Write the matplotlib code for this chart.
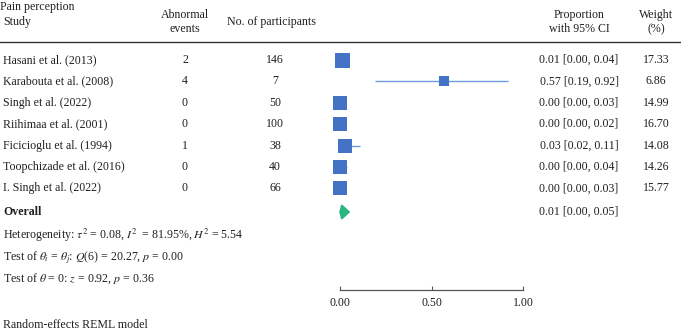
import matplotlib
matplotlib.use("Agg")
import matplotlib.pyplot as plt
import matplotlib.transforms as mtransforms
from matplotlib.lines import Line2D
import numpy as np

studies = ["Hasani et al. (2013)", "Karabouta et al. (2008)", "Singh et al. (2022)",
           "Riihimaa et al. (2001)", "Ficicioglu et al. (1994)", "Toopchizade et al. (2016)",
           "I. Singh et al. (2022)"]
events = [2, 4, 0, 0, 1, 0, 0]
participants = [146, 7, 50, 100, 38, 40, 66]
prop = [0.01, 0.57, 0.00, 0.00, 0.03, 0.00, 0.00]
ci_lo = [0.00, 0.19, 0.00, 0.00, 0.02, 0.00, 0.00]
ci_hi = [0.04, 0.92, 0.03, 0.02, 0.11, 0.04, 0.03]
weights = [17.33, 6.86, 14.99, 16.70, 14.08, 14.26, 15.77]
overall = (0.01, 0.00, 0.05)

plt.rcParams['font.family'] = ['Liberation Serif', 'DejaVu Serif']
plt.rcParams['mathtext.fontset'] = 'stix'
plt.rcParams['text.color'] = '#231f20'
plt.rcParams['xtick.labelcolor'] = '#231f20'
fs = 8.6
W, H = 681, 330
fig = plt.figure(figsize=(W / 100, H / 100), dpi=100)

# forest axes: x=0 at 340px, x=1 at 523px; top at 42px, axis line at 290px
ax = fig.add_axes([340 / W, (H - 290) / H, 183 / W, (290 - 42) / H])
ax.set_xlim(0, 1)
ax.set_ylim(1 + (290 - 60) / 21.4, 1 - 18 / 21.4)
for s in ["top", "right", "left"]:
    ax.spines[s].set_visible(False)
ax.spines["bottom"].set_color("#555555")
ax.spines["bottom"].set_linewidth(0.9)
ax.set_yticks([])
ax.set_xticks([0, 0.5, 1.0])
ax.set_xticklabels(["0.00", "0.50", "1.00"], fontsize=fs)
ax.tick_params(axis="x", direction="in", length=3, color="#555555", pad=5)

rows = np.arange(1, len(studies) + 1)
y_over = 1 + (212 - 60) / 21.4

for y, p, lo, hi, w in zip(rows, prop, ci_lo, ci_hi, weights):
    ax.plot([lo, hi], [y, y], color="#6f9bdc", lw=1.0, solid_capstyle="butt",
            zorder=2, clip_on=False)
    ax.plot(p, y, marker="s", color="#4472c4", markersize=10.8 * np.sqrt(w / 17.33),
            markeredgewidth=0, zorder=3, clip_on=False)

est, lo, hi = overall
h = 0.31
ax.fill([lo, est, hi, est], [y_over, y_over - h, y_over, y_over + h],
        color="#2bb57f", lw=1.2, ec="#2bb57f", joinstyle="round", zorder=3, clip_on=False)

tr = mtransforms.blended_transform_factory(fig.transFigure, ax.transData)
kw = dict(transform=tr, fontsize=fs, clip_on=False, va="center")

def fx(px):
    return px / W

for y, st, ev, n, p, l, u, w in zip(rows, studies, events, participants,
                                      prop, ci_lo, ci_hi, weights):
    ax.text(fx(3), y, st, ha="left", **kw)
    ax.text(fx(185), y, str(ev), ha="center", **kw)
    ax.text(fx(275), y, str(n), ha="center", **kw)
    ax.text(fx(579), y, f"{p:.2f} [{l:.2f}, {u:.2f}]", ha="center", **kw)
    ax.text(fx(656), y, f"{w:.2f}", ha="center", **kw)

ax.text(fx(3), y_over, "Overall", ha="left", fontweight="bold", **kw)
ax.text(fx(579), y_over, f"{est:.2f} [{lo:.2f}, {hi:.2f}]", ha="center", **kw)

def ypix(px):
    return 1 + (px - 60) / 21.4

ax.text(fx(3), ypix(235), r"Heterogeneity: $\tau^2$ = 0.08, $I^2$  = 81.95%, $H^2$ = 5.54", ha="left", **kw)
ax.text(fx(3), ypix(257), r"Test of $\theta_i$ = $\theta_j$: $Q$(6) = 20.27, $p$ = 0.00", ha="left", **kw)
ax.text(fx(3), ypix(279), r"Test of $\theta$ = 0: $z$ = 0.92, $p$ = 0.36", ha="left", **kw)

# headers
def fy(px):
    return 1 - px / H

fig.text(fx(0), fy(7), "Pain perception", fontsize=fs, va="center", ha="left")
fig.text(fx(3), fy(22), "Study", fontsize=fs, va="center", ha="left")
fig.text(fx(185), fy(22), "Abnormal\nevents", fontsize=fs, va="center", ha="center", linespacing=1.3)
fig.text(fx(271), fy(22), "No. of participants", fontsize=fs, va="center", ha="center")
fig.text(fx(579), fy(22), "Proportion\nwith 95% CI", fontsize=fs, va="center", ha="center", linespacing=1.3)
fig.text(fx(656), fy(22), "Weight\n(%)", fontsize=fs, va="center", ha="center", linespacing=1.3)
fig.add_artist(Line2D([0, 1], [fy(42), fy(42)], transform=fig.transFigure,
                      color="#333333", lw=1.0))
fig.text(fx(3), fy(325), "Random-effects REML model", fontsize=fs, va="center", ha="left")

fig.savefig("out.png", dpi=100)
